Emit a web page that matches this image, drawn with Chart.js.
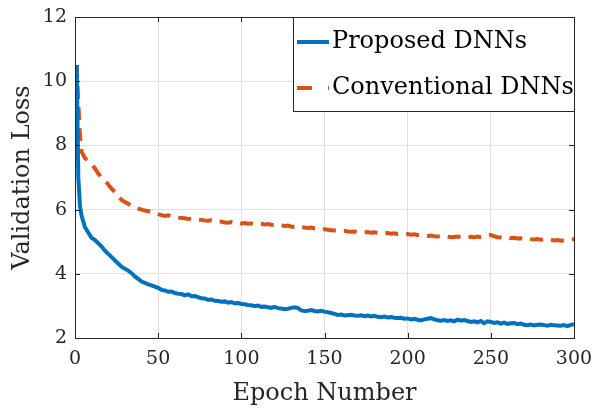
<!DOCTYPE html>
<html>
<head>
<meta charset="utf-8">
<title>Validation Loss</title>
<script src="https://cdn.jsdelivr.net/npm/chart.js@4.4.1/dist/chart.umd.min.js"></script>
<style>
  html, body { margin: 0; padding: 0; background: #fff; }
  #wrap { width: 594px; height: 411px; position: relative; }
</style>
</head>
<body>
<div id="wrap"><canvas id="lossChart" width="594" height="411"></canvas></div>
<script>
// epochs sampled from the figure (every 2nd epoch after the first few)
const epochs = [
  1, 2, 3, 4,
  6, 8, 10, 12, 14, 16, 18, 20, 22, 24,
  26, 28, 30, 32, 34, 36, 38, 40, 42, 44,
  46, 48, 50, 52, 54, 56, 58, 60, 62, 64,
  66, 68, 70, 72, 74, 76, 78, 80, 82, 84,
  86, 88, 90, 92, 94, 96, 98, 100, 102, 104,
  106, 108, 110, 112, 114, 116, 118, 120, 122, 124,
  126, 128, 130, 132, 134, 136, 138, 140, 142, 144,
  146, 148, 150, 152, 154, 156, 158, 160, 162, 164,
  166, 168, 170, 172, 174, 176, 178, 180, 182, 184,
  186, 188, 190, 192, 194, 196, 198, 200, 202, 204,
  206, 208, 210, 212, 214, 216, 218, 220, 222, 224,
  226, 228, 230, 232, 234, 236, 238, 240, 242, 244,
  246, 248, 250, 252, 254, 256, 258, 260, 262, 264,
  266, 268, 270, 272, 274, 276, 278, 280, 282, 284,
  286, 288, 290, 292, 294, 296, 298, 300
];

// Proposed DNNs (blue, solid)
const proposedLoss = [
  10.5, 7.0, 6.1, 5.8,
  5.45, 5.28, 5.12, 5.05, 4.95, 4.85, 4.72, 4.62, 4.52, 4.42,
  4.32, 4.22, 4.16, 4.1, 4.02, 3.92, 3.84, 3.76, 3.72, 3.67,
  3.64, 3.6, 3.56, 3.5, 3.48, 3.44, 3.45, 3.4, 3.38, 3.37,
  3.33, 3.36, 3.3, 3.31, 3.27, 3.24, 3.23, 3.19, 3.2, 3.16,
  3.15, 3.13, 3.14, 3.1, 3.12, 3.08, 3.09, 3.06, 3.05, 3.03,
  3.02, 2.99, 3.01, 2.97, 2.98, 2.96, 2.94, 2.97, 2.93, 2.92,
  2.9, 2.91, 2.94, 2.96, 2.93, 2.86, 2.84, 2.85, 2.87, 2.84,
  2.83, 2.85, 2.82, 2.8, 2.78, 2.75, 2.72, 2.73, 2.7, 2.71,
  2.72, 2.7, 2.69, 2.71, 2.68, 2.7, 2.67, 2.69, 2.66, 2.65,
  2.67, 2.64, 2.65, 2.63, 2.62, 2.63, 2.6, 2.61, 2.58, 2.6,
  2.57, 2.55, 2.58, 2.6, 2.62, 2.58, 2.55, 2.54, 2.56, 2.53,
  2.55, 2.52, 2.57, 2.54, 2.56, 2.53, 2.5, 2.52, 2.49, 2.53,
  2.46, 2.52, 2.5, 2.47, 2.49, 2.45, 2.48, 2.44, 2.46, 2.47,
  2.43, 2.45, 2.41, 2.4, 2.42, 2.39, 2.41, 2.42, 2.4, 2.38,
  2.41, 2.4, 2.39, 2.38, 2.4, 2.37, 2.41, 2.43
];

// Conventional DNNs (orange, dashed)
const conventionalLoss = [
  10.5, 9.3, 8.3, 7.8,
  7.6, 7.52, 7.42, 7.28, 7.12, 7.0, 6.9, 6.78, 6.65, 6.55,
  6.42, 6.3, 6.24, 6.18, 6.12, 6.08, 6.03, 6.0, 5.97, 5.95,
  5.92, 5.9, 5.86, 5.83, 5.8, 5.82, 5.78, 5.77, 5.75, 5.74,
  5.73, 5.71, 5.72, 5.7, 5.69, 5.68, 5.66, 5.65, 5.67, 5.64,
  5.62, 5.63, 5.6, 5.59, 5.61, 5.58, 5.6, 5.57, 5.58, 5.56,
  5.57, 5.55, 5.57, 5.56, 5.54, 5.55, 5.53, 5.52, 5.5, 5.51,
  5.49, 5.5, 5.47, 5.46, 5.48, 5.45, 5.44, 5.43, 5.44, 5.41,
  5.4, 5.38, 5.39, 5.37, 5.36, 5.35, 5.34, 5.33, 5.34, 5.32,
  5.31, 5.32, 5.3, 5.31, 5.29, 5.3, 5.28, 5.29, 5.27, 5.28,
  5.26, 5.27, 5.25, 5.26, 5.24, 5.25, 5.23, 5.24, 5.22, 5.23,
  5.21, 5.2, 5.19, 5.18, 5.19, 5.17, 5.16, 5.17, 5.15, 5.16,
  5.14, 5.15, 5.16, 5.14, 5.15, 5.13, 5.15, 5.14, 5.16, 5.14,
  5.15, 5.18, 5.21, 5.17, 5.14, 5.13, 5.12, 5.14, 5.11, 5.12,
  5.1, 5.11, 5.09, 5.1, 5.08, 5.07, 5.08, 5.06, 5.07, 5.05,
  5.06, 5.04, 5.05, 5.03, 5.04, 5.05, 5.07, 5.08
];

const seriesNames = ['Proposed DNNs', 'Conventional DNNs'];
const xTicks = [0, 50, 100, 150, 200, 250, 300];
const yTicks = [2, 4, 6, 8, 10, 12];

const BLUE = '#0072BD';
const ORANGE = '#D95319';
const AXIS = '#262626';
const SERIF = '"DejaVu Serif", "Liberation Serif", serif';

function toPoints(vals) {
  return epochs.map((e, i) => ({ x: e, y: vals[i] }));
}

// box around the axes + inward tick marks (like MATLAB)
const boxPlugin = {
  id: 'boxTicks',
  afterDatasetsDraw(chart) {
    const { ctx, chartArea: a, scales } = chart;
    ctx.save();
    ctx.strokeStyle = AXIS;
    ctx.lineWidth = 1;
    ctx.beginPath();
    xTicks.forEach(v => {
      const px = Math.round(scales.x.getPixelForValue(v)) + 0.5;
      ctx.moveTo(px, a.bottom); ctx.lineTo(px, a.bottom - 5);
      ctx.moveTo(px, a.top); ctx.lineTo(px, a.top + 5);
    });
    yTicks.forEach(v => {
      const py = Math.round(scales.y.getPixelForValue(v)) + 0.5;
      ctx.moveTo(a.left, py); ctx.lineTo(a.left + 5, py);
      ctx.moveTo(a.right, py); ctx.lineTo(a.right - 5, py);
    });
    ctx.stroke();
    ctx.strokeRect(Math.round(a.left) + 0.5, Math.round(a.top) + 0.5,
      Math.round(a.right - a.left), Math.round(a.bottom - a.top));
    ctx.restore();
  }
};

// legend box in the top-right corner
const legendPlugin = {
  id: 'cornerLegend',
  afterDraw(chart) {
    const { ctx, chartArea: a } = chart;
    const w = 281, h = 94;
    const x0 = Math.round(a.right) - w, y0 = Math.round(a.top);
    ctx.save();
    ctx.fillStyle = '#fff';
    ctx.fillRect(x0, y0, w, h);
    ctx.strokeStyle = AXIS;
    ctx.lineWidth = 1;
    ctx.strokeRect(x0 + 0.5, y0 + 0.5, w, h);
    chart.data.datasets.forEach((ds, i) => {
      const y = y0 + 25 + i * 46;
      ctx.strokeStyle = ds.borderColor;
      ctx.lineWidth = ds.borderWidth;
      ctx.setLineDash(i === 1 ? [15, 16] : []);
      ctx.beginPath();
      ctx.moveTo(x0 + 4, y);
      ctx.lineTo(x0 + 36, y);
      ctx.stroke();
      ctx.setLineDash([]);
      ctx.fillStyle = '#000';
      ctx.font = '24px ' + SERIF;
      ctx.textBaseline = 'middle';
      ctx.fillText(ds.label, x0 + 39, y);
    });
    ctx.restore();
  }
};

const ctx = document.getElementById('lossChart').getContext('2d');
new Chart(ctx, {
  type: 'line',
  data: {
    datasets: [
      {
        label: seriesNames[0],
        data: toPoints(proposedLoss),
        borderColor: BLUE,
        borderWidth: 4,
        pointRadius: 0,
        tension: 0,
        fill: false
      },
      {
        label: seriesNames[1],
        data: toPoints(conventionalLoss),
        borderColor: ORANGE,
        borderWidth: 4,
        borderDash: [13, 8],
        pointRadius: 0,
        tension: 0,
        fill: false
      }
    ]
  },
  options: {
    responsive: false,
    animation: false,
    devicePixelRatio: 1,
    layout: { padding: { left: 0, right: 20, top: 17, bottom: 0 } },
    plugins: { legend: { display: false }, tooltip: { enabled: false } },
    scales: {
      x: {
        type: 'linear',
        min: 0, max: 300,
        afterBuildTicks: s => { s.ticks = xTicks.map(v => ({ value: v })); },
        afterFit: s => { s.height = 73; s.paddingLeft = 0; s.paddingRight = 0; },
        grid: { color: '#e0e0e0', drawTicks: false },
        border: { display: false },
        ticks: { color: AXIS, padding: 10, maxRotation: 0, font: { family: SERIF, size: 19 } },
        title: { display: true, text: 'Epoch Number', color: AXIS, padding: { top: 0, bottom: 3 },
                 font: { family: SERIF, size: 24 } }
      },
      y: {
        min: 2, max: 12,
        afterBuildTicks: s => { s.ticks = yTicks.map(v => ({ value: v })); },
        afterFit: s => { s.width = 75; s.paddingTop = 0; s.paddingBottom = 0; },
        grid: { color: '#e0e0e0', drawTicks: false },
        border: { display: false },
        ticks: { color: AXIS, padding: 8, font: { family: SERIF, size: 19 } },
        title: { display: true, text: 'Validation Loss', color: AXIS, padding: { top: 8, bottom: 0 },
                 font: { family: SERIF, size: 24 } }
      }
    }
  },
  plugins: [boxPlugin, legendPlugin]
});
</script>
</body>
</html>
